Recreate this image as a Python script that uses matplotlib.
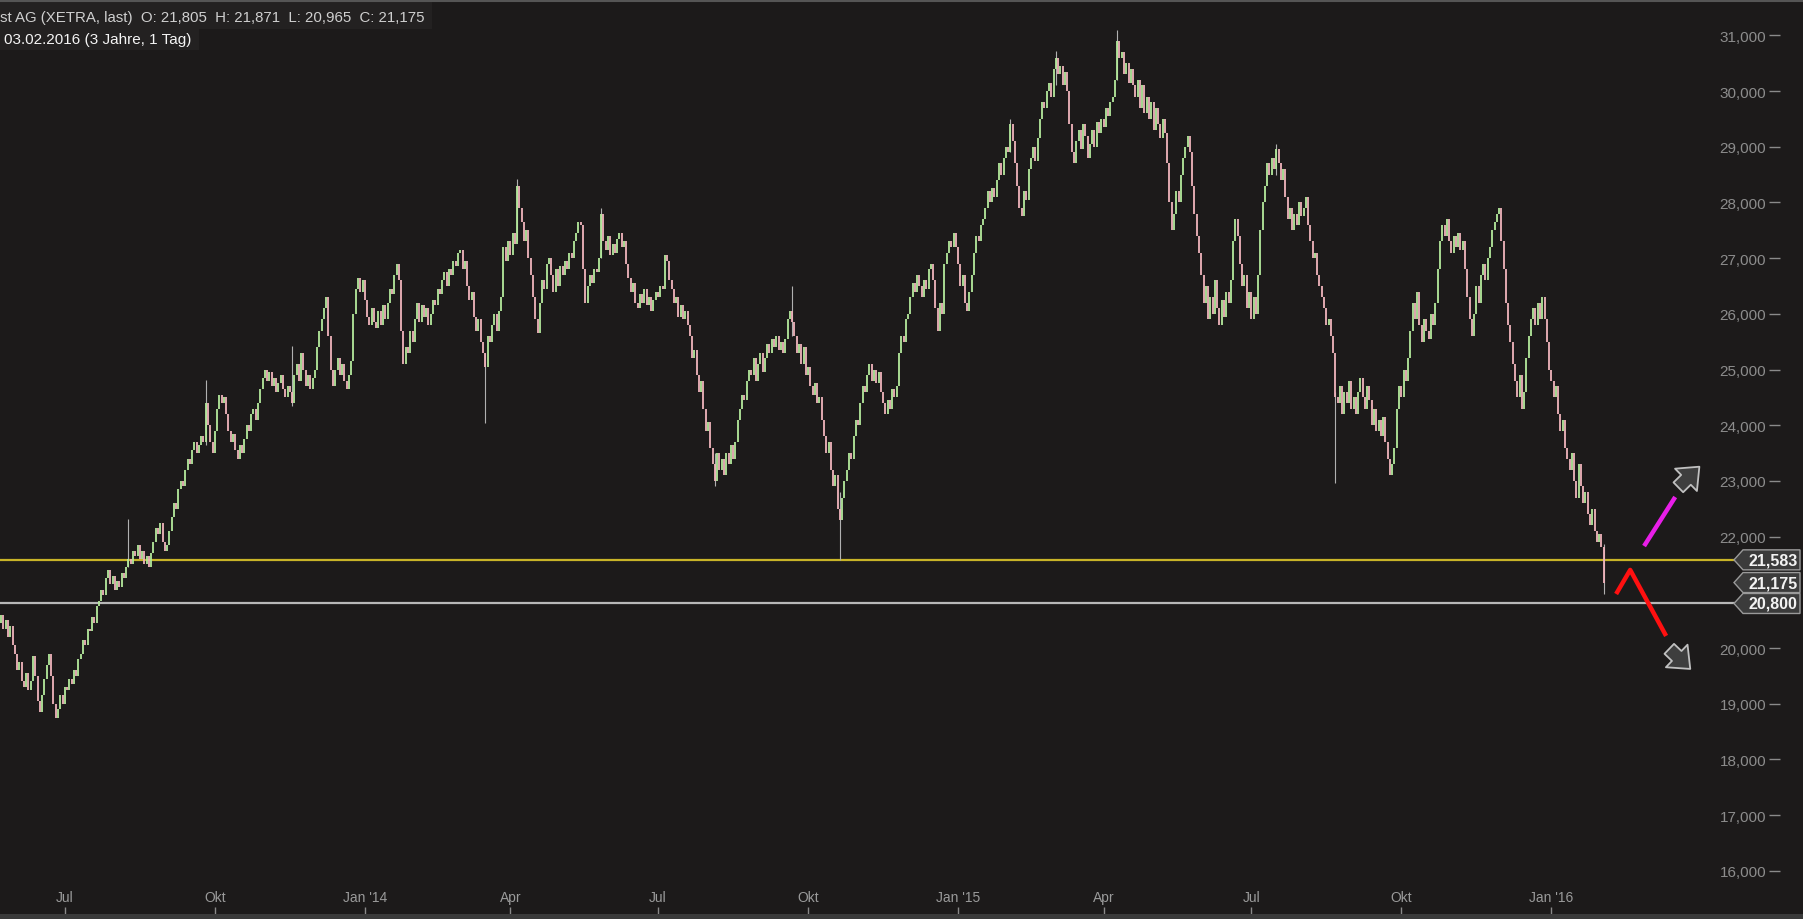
import numpy as np
import pandas as pd
import matplotlib
matplotlib.use("Agg")
import matplotlib.pyplot as plt
import matplotlib.patches as mpatches
from matplotlib import font_manager as fm
from matplotlib.ticker import FuncFormatter
from matplotlib.transforms import IdentityTransform

# daily closes, XETRA, 22.05.2013 - 03.02.2016
close = [
    20600, 20350, 20500, 20200, 20400, 20050, 19900, 19600, 19750, 19400,
    19300, 19550, 19250, 19400, 19850, 19500, 19050, 18850, 19150, 19450,
    19700, 19900, 19500, 19000, 18750, 18900, 19150, 19000, 19300, 19250,
    19450, 19350, 19600, 19500, 19800, 19900, 20150, 20050, 20350, 20300,
    20550, 20450, 20750, 20850, 21050, 20950, 21250, 21400, 21150, 21300,
    21050, 21200, 21100, 21350, 21250, 21450, 21600, 21500, 21750, 21650,
    21850, 21600, 21750, 21500, 21650, 21450, 21700, 21900, 22150, 22050,
    22250, 21900, 21750, 21850, 22100, 22350, 22600, 22500, 22850, 23000,
    22900, 23200, 23400, 23300, 23550, 23700, 23500, 23650, 23800, 23700,
    24400, 24000, 23700, 23500, 23900, 24300, 24550, 24400, 24500, 24200,
    23900, 23700, 23850, 23550, 23400, 23650, 23500, 23750, 24000, 23900,
    24200, 24300, 24100, 24400, 24650, 24850, 25000, 24800, 24950, 24700,
    24850, 24600, 24750, 24900, 24650, 24500, 24700, 24600, 24400, 24900,
    25100, 24800, 25300, 25000, 24700, 24900, 24650, 24850, 25000, 25400,
    25700, 25900, 26100, 26300, 25600, 25000, 24700, 25000, 25200, 24900,
    25100, 24800, 24650, 24900, 25150, 26000, 26450, 26650, 26400, 26600,
    26250, 25950, 25800, 26100, 25850, 25750, 26050, 25800, 26150, 25900,
    26200, 26450, 26350, 26700, 26900, 26600, 25700, 25100, 25400, 25300,
    25700, 25500, 25900, 26200, 25850, 26150, 25950, 26100, 25800, 26000,
    26250, 26150, 26450, 26350, 26600, 26750, 26500, 26800, 26700, 26950,
    26850, 27100, 27150, 26800, 26950, 26500, 26250, 26400, 25950, 25700,
    25900, 25500, 25300, 25050, 25600, 25500, 25800, 26000, 25700, 26050,
    26300, 27200, 26950, 27300, 27050, 27450, 27250, 28300, 27900, 27650,
    27300, 27500, 27000, 26700, 26300, 25900, 25650, 26200, 26600, 26450,
    26900, 27000, 26700, 26400, 26800, 26500, 26850, 26700, 26950, 26800,
    27100, 27000, 27300, 27450, 27650, 27600, 26800, 26200, 26500, 26700,
    26550, 26800, 26750, 27000, 27800, 27300, 27150, 27400, 27050, 27250,
    27100, 27350, 27450, 27200, 27300, 26900, 26650, 26400, 26550, 26200,
    26100, 26350, 26200, 26450, 26150, 26300, 26050, 26250, 26400, 26300,
    26500, 26450, 27050, 26950, 26600, 26450, 26200, 26300, 25950, 26150,
    25900, 26050, 25800, 25600, 25200, 25350, 24900, 24600, 24800, 24300,
    23900, 24050, 23600, 23300, 23000, 23500, 23200, 23400, 23100, 23500,
    23300, 23650, 23400, 23700, 24100, 24300, 24550, 24450, 24800, 25000,
    24900, 25200, 24800, 25100, 25300, 24950, 25200, 25450, 25300, 25550,
    25400, 25600, 25350, 25500, 25300, 25550, 25900, 26050, 25850, 25600,
    25300, 25450, 25100, 25400, 24900, 25050, 24700, 24550, 24750, 24400,
    24500, 24100, 23800, 23500, 23700, 23200, 22900, 23100, 22500, 22300,
    22700, 23000, 23200, 23500, 23400, 23800, 24100, 24000, 24400, 24700,
    24600, 24900, 25100, 24800, 25000, 24750, 24950, 24600, 24400, 24200,
    24450, 24300, 24650, 24500, 24700, 25300, 25600, 25500, 25900, 26000,
    26300, 26550, 26400, 26700, 26500, 26300, 26600, 26450, 26800, 26900,
    26600, 26100, 25700, 26200, 26000, 26900, 27100, 27300, 27200, 27450,
    27200, 26900, 26500, 26700, 26200, 26050, 26400, 26700, 27100, 27400,
    27300, 27600, 27700, 27900, 28200, 28000, 28250, 28100, 28400, 28700,
    28500, 28800, 29000, 28900, 29400, 29100, 28700, 28300, 27900, 27750,
    28200, 28050, 28600, 28800, 29000, 28750, 29150, 29500, 29800, 29700,
    30000, 30150, 29900, 30400, 30600, 30300, 30450, 30100, 30350, 30000,
    29400, 28900, 28700, 29100, 29300, 28950, 29400, 29200, 28800, 29050,
    29300, 29000, 29450, 29250, 29500, 29350, 29700, 29550, 29800, 29900,
    30200, 30900, 30600, 30700, 30300, 30500, 30150, 30400, 30100, 29900,
    30200, 29700, 30100, 29600, 29900, 29500, 29800, 29300, 29700, 29400,
    29150, 29500, 29250, 28700, 28000, 27500, 27800, 28200, 28000, 28500,
    28800, 29000, 29200, 28900, 28300, 27800, 27400, 27100, 26700, 26200,
    26500, 25900, 26300, 26000, 26600, 26100, 25800, 26250, 25950, 26400,
    26200, 26600, 27300, 27700, 27400, 26900, 26500, 26700, 26100, 26400,
    25900, 26300, 26000, 26700, 27500, 28000, 28300, 28700, 28500, 28800,
    28600, 28950, 28700, 28400, 28600, 28100, 27700, 27900, 27500, 27800,
    27600, 28000, 27750, 27900, 28100, 27600, 27300, 27000, 27100, 26700,
    26500, 26300, 26100, 25800, 25900, 25600, 25300, 24500, 24400, 24700,
    24200, 24600, 24400, 24800, 24300, 24500, 24200, 24600, 24850, 24500,
    24300, 24700, 24450, 24000, 24300, 23900, 24100, 23800, 24150, 23700,
    23400, 23100, 23300, 23600, 24300, 24700, 24500, 25000, 24800, 25200,
    25700, 26200, 25900, 26400, 25800, 25500, 25900, 25700, 25550, 26000,
    25800, 26200, 26800, 27300, 27600, 27400, 27700, 27300, 27100, 27400,
    27200, 27450, 27150, 27300, 26800, 26300, 25900, 25600, 26000, 26500,
    26200, 26700, 26900, 26600, 27000, 27200, 27500, 27650, 27800, 27900,
    27300, 26800, 26200, 25800, 25500, 25100, 24800, 24500, 24900, 24300,
    24600, 25200, 25600, 25900, 26100, 25800, 26200, 25900, 26300, 25900,
    25500, 25000, 24800, 24500, 24700, 24200, 23900, 24100, 23600, 23400,
    23200, 23500, 23000, 22700, 23300, 22900, 22600, 22800, 22400, 22200,
    22500, 22100, 21900, 22050, 21805, 21175,
]
first_open = 20450

# bar index -> (low, high) for the long wicks
wicks = {
    56: (21450, 22325), 90: (23650, 24807), 128: (24350, 25430),
    213: (24040, 25300), 227: (27300, 28416), 264: (27000, 27900),
    314: (22900, 23500), 348: (25600, 26500), 369: (21583, 22800),
    444: (28900, 29500), 464: (30100, 30720), 491: (30200, 31100),
    561: (28500, 29050), 587: (22960, 24600), 705: (20965, 21871),
}

support_yellow = 21583
support_white = 20800
last_close = 21175
header_1 = "st AG (XETRA, last)  O: 21,805  H: 21,871  L: 20,965  C: 21,175"
header_2 = "03.02.2016 (3 Jahre, 1 Tag)"

# hand-drawn scenario lines (bar index, price)
red_path = [(710.5, 20970), (716.7, 21402), (732.5, 20217)]
magenta_path = [(722.8, 21831), (736.5, 22711)]
arrow_up = [(737.0, 22850), (748.0, 23290)]
arrow_down = [(733.0, 20020), (744.0, 19590)]

BG = "#1c1a1a"
W, H = 1803, 920

names = {f.name for f in fm.fontManager.ttflist}
FONT = "Liberation Sans Narrow" if "Liberation Sans Narrow" in names else "Liberation Sans"
plt.rcParams["font.family"] = [FONT, "DejaVu Sans"]

fig = plt.figure(figsize=(W / 100, H / 100), dpi=100, facecolor=BG)
ax = fig.add_axes([0, 5 / H, 1780 / W, (H - 8) / H], facecolor=BG)
for s in ax.spines.values():
    s.set_visible(False)

n = len(close)
x = np.arange(n)
opens = np.array([first_open] + close[:-1])
closes = np.array(close)
up = closes >= opens
colors = np.where(up, "#b4ea9c", "#f0b4bc")

ax.vlines(x, opens, closes, colors=colors, linewidth=1.3, zorder=3)
wx = list(wicks.keys())
ax.vlines(wx, [wicks[k][0] for k in wx], [wicks[k][1] for k in wx],
          colors="#b0b0b0", linewidth=0.8, zorder=2)

ax.set_xlim(-0.5, 782.6)
ax.set_ylim(15225, 31598)

ax.axhline(support_yellow, color="#c8b428", linewidth=1.6, zorder=1, xmax=1734 / 1780)
ax.axhline(support_white, color="#b8b8b8", linewidth=1.6, zorder=1, xmax=1734 / 1780)

ax.plot(*zip(*red_path), color="#ff1010", linewidth=3.2, solid_capstyle="butt", zorder=5)
ax.plot(*zip(*magenta_path), color="#e81ee8", linewidth=3.2, solid_capstyle="butt", zorder=5)
for tail, tip in (arrow_up, arrow_down):
    ax.add_patch(mpatches.FancyArrowPatch(
        tail, tip, arrowstyle="simple,head_length=0.75,head_width=1.25,tail_width=0.55",
        mutation_scale=18, facecolor="#3e3e3e", edgecolor="#c0c0c0", linewidth=1.3, zorder=6))

# x axis: quarter ticks
dates = pd.bdate_range(end="2016-02-03", periods=n)
tick_pos, tick_lab = [], []
for i in range(1, n):
    if dates[i].month != dates[i - 1].month and dates[i].month in (1, 4, 7, 10):
        tick_pos.append(i)
        m = dates[i].month
        tick_lab.append({1: "Jan '" + dates[i].strftime("%y"), 4: "Apr", 7: "Jul", 10: "Okt"}[m])
ax.set_xticks(tick_pos)
ax.set_xticklabels(tick_lab)
ax.tick_params(axis="x", direction="in", length=5, width=1, color="#8a8a8a",
               labelcolor="#9a9a9a", labelsize=10, pad=-17)

# 21,000 sits under the price badges
ax.yaxis.tick_right()
ax.set_yticks(np.arange(16000, 31001, 1000))
ax.yaxis.set_major_formatter(FuncFormatter(lambda v, p: "" if v == 21000 else f"{v:,.0f}"))
ax.tick_params(axis="y", direction="in", length=8, width=1, color="#8a8a8a",
               labelcolor="#8c8c8c", labelsize=11, pad=-10)
for lab in ax.get_yticklabels():
    lab.set_horizontalalignment("right")

# header
fig.patches.append(mpatches.Rectangle((0, H - 30), 432, 27, transform=IdentityTransform(),
                                      facecolor="#232121", edgecolor="none"))
fig.patches.append(mpatches.Rectangle((0, H - 51), 199, 21, transform=IdentityTransform(),
                                      facecolor="#232121", edgecolor="none"))
fig.text(0, 1 - 18 / H, header_1, color="#cfcfcf", fontsize=10.8, va="center", ha="left")
fig.text(4 / W, 1 - 40 / H, header_2, color="#f4f4f4", fontsize=11, va="center", ha="left")
fig.add_artist(plt.Line2D([0, 1], [1 - 2 / H, 1 - 2 / H], color="#555555", linewidth=1.5))

# bottom strip
fig.patches.append(mpatches.Rectangle((0, 0), W, 5, transform=IdentityTransform(),
                                      facecolor="#3a3a3a", edgecolor="none"))

# price badges on the right
fig.canvas.draw()
for val in (support_yellow, last_close, support_white):
    yd = ax.transData.transform((0, val))[1]
    x0, x1, h = 1734, 1800, 10
    verts = [(x0, yd), (x0 + 9, yd + h), (x1, yd + h), (x1, yd - h), (x0 + 9, yd - h)]
    fig.patches.append(mpatches.Polygon(verts, closed=True, transform=IdentityTransform(),
                                        facecolor="#3b3b3b", edgecolor="#9a9a9a", linewidth=1.0))
    fig.text((x0 + 39) / W, yd / H, f"{val:,.0f}", color="#f2f2f2", fontsize=11.5,
             fontweight="bold", ha="center", va="center")

fig.savefig("out.png", dpi=100, facecolor=BG)
